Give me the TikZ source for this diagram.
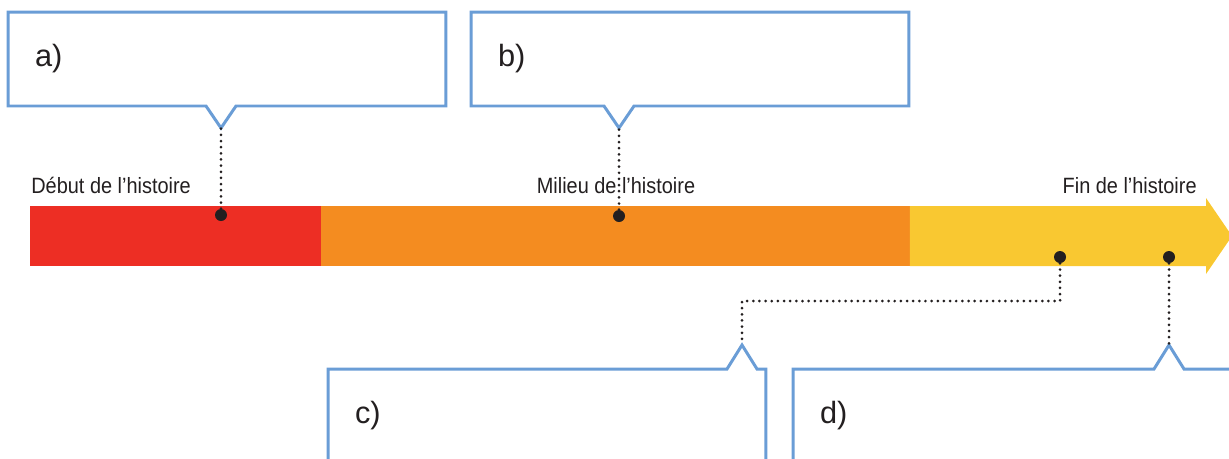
\documentclass[tikz,border=0pt]{standalone}
\usepackage{fontspec}
\setmainfont{Liberation Sans}
\newfontfamily\condfont[FakeStretch=0.9]{Liberation Sans}
\usepackage{xcolor}
\usepackage{tikz}
\usetikzlibrary{positioning,calc}

\definecolor{boxblue}{RGB}{106,157,214}
\definecolor{debutred}{RGB}{237,46,36}
\definecolor{milieuorange}{RGB}{244,140,32}
\definecolor{finyellow}{RGB}{249,200,49}
\definecolor{inkdark}{RGB}{35,31,32}

\begin{document}
\begin{tikzpicture}[x=0.02cm,y=-0.02cm,
        answerbox/.style={minimum width=8.76cm, minimum height=1.88cm, inner xsep=0.54cm, outer sep=0pt,
            text width=7.68cm, align=left, font=\fontsize{17.5}{20}\selectfont, text=inkdark},
        segment/.style={minimum height=1.2cm, inner sep=0pt, outer sep=0pt},
        marker/.style={circle, fill=inkdark, minimum size=0.24cm, inner sep=0pt},
        phase/.style={font=\condfont\fontsize{12.6}{14}\selectfont, text=inkdark, inner sep=0pt},
        leader/.style={inkdark, line width=1.7pt, line cap=round, dash pattern=on 0pt off 3.5pt},
        outline/.style={boxblue, line width=1.7pt, line join=miter}]
        \clip (0,0) rectangle (1229,458);
        % time bar
        \node[segment, fill=debutred, minimum width=5.82cm, anchor=west] (debut) at (30,236) {};
        \node[segment, fill=milieuorange, minimum width=11.78cm, right=0pt of debut] (milieu) {};
        \fill[finyellow] (milieu.north east) -- (1206,206) -- (1206,198) -- (1232,236)
            -- (1206,274) -- (1206,266) -- (milieu.south east) -- cycle;
        \node[phase, anchor=base west] (debutlabel) at (31,193) {Début de l’histoire};
        \node[phase, anchor=base] (milieulabel) at (616,193) {Milieu de l’histoire};
        \node[phase, anchor=base east] (finlabel) at (1197,193) {Fin de l’histoire};
        % answer boxes
        \node[answerbox] (boxa) at (227,59) {a)};
        \node[answerbox] (boxb) at (690,59) {b)};
        \node[answerbox] (boxc) at (547,416) {c)};
        \node[answerbox] (boxd) at (1012,416) {d)};
        \coordinate (tipa) at (221,128);
        \coordinate (tipb) at (619,128);
        \coordinate (tipc) at (742,345);
        \coordinate (tipd) at (1169,345);
        \coordinate (elbowc) at (742,301);
        \foreach \b in {a,b}
            \draw[outline] (box\b.north west) -- (box\b.north east) -- (box\b.south east)
                -- ($(tip\b |- box\b.south)+(15,0)$) -- (tip\b) -- ($(tip\b |- box\b.south)+(-15,0)$)
                -- (box\b.south west) -- cycle;
        \foreach \b in {c,d}
            \draw[outline] (box\b.south west) -- (box\b.north west)
                -- ($(tip\b |- box\b.north)+(-15,0)$) -- (tip\b) -- ($(tip\b |- box\b.north)+(15,0)$)
                -- (box\b.north east) -- (box\b.south east) -- cycle;
        % markers
        \node[marker] (dota) at (221,215) {};
        \node[marker] (dotb) at (619,216) {};
        \node[marker] (dotc) at (1060,257) {};
        \node[marker] (dotd) at (1169,257) {};
        \draw[leader] (dota) -- (tipa);
        \draw[leader] (dotb) -- (tipb);
        \draw[leader] (dotc) |- (elbowc) -- (tipc);
        \draw[leader] (dotd) -- (tipd);
\end{tikzpicture}
\end{document}
